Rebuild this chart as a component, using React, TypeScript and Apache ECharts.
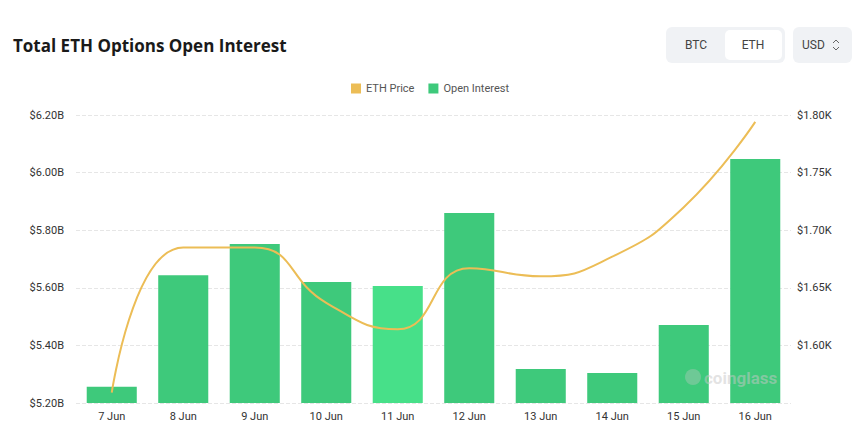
import React, { useEffect, useRef } from "react";
import * as echarts from "echarts";

const categories = ["7 Jun", "8 Jun", "9 Jun", "10 Jun", "11 Jun", "12 Jun", "13 Jun", "14 Jun", "15 Jun", "16 Jun"];
const openInterestB = [5.256, 5.644, 5.752, 5.62, 5.606, 5.86, 5.318, 5.304, 5.471, 6.047];
const ethPriceK = [1.559, 1.685, 1.685, 1.637, 1.614, 1.667, 1.66, 1.677, 1.72, 1.794];
const leftTicks = { min: 5.2, max: 6.2, interval: 0.2 };
const rightTicks = { min: 1.55, max: 1.8, interval: 0.05 };

const FONT = "Roboto, 'Noto Sans', sans-serif";

export default function App() {
  const ref = useRef<HTMLDivElement>(null);
  useEffect(() => {
    document.body.style.margin = "0";
    const chart = echarts.init(ref.current!, null, { renderer: "svg" });
    chart.setOption({
      animation: false,
      backgroundColor: "#ffffff",
      textStyle: { fontFamily: FONT },
      title: {
        text: "Total ETH Options Open Interest",
        left: 8,
        top: 32,
        textStyle: { fontFamily: "'Open Sans', 'Noto Sans', sans-serif", fontSize: 17, fontWeight: "bold", color: "#1a1a1a" },
      },
      legend: {
        top: 78,
        left: "center",
        itemWidth: 10,
        itemHeight: 10,
        itemGap: 14,
        icon: "rect",
        textStyle: { fontSize: 11, color: "#555", fontFamily: FONT },
        data: [
          { name: "ETH Price", itemStyle: { color: "#ecbd56" } },
          { name: "Open Interest", itemStyle: { color: "#3ec97b" } },
        ],
      },
      grid: { left: 76, right: 69, top: 115, bottom: 24, containLabel: false },
      xAxis: {
        type: "category",
        data: categories,
        axisLine: { show: false },
        axisTick: { show: false },
        axisLabel: { color: "#333", fontSize: 11, margin: 8 },
      },
      yAxis: [
        {
          type: "value",
          min: leftTicks.min,
          max: leftTicks.max,
          interval: leftTicks.interval,
          position: "left",
          axisLabel: {
            color: "#333",
            fontSize: 11,
            margin: 12,
            formatter: (v: number) => "$" + v.toFixed(2) + "B",
          },
          splitLine: { lineStyle: { type: "dashed", color: "#e6e6e6" } },
        },
        {
          type: "value",
          min: rightTicks.min,
          max: rightTicks.max,
          interval: rightTicks.interval,
          position: "right",
          axisLabel: {
            color: "#333",
            fontSize: 11,
            margin: 6,
            showMinLabel: false,
            formatter: (v: number) => "$" + v.toFixed(2) + "K",
          },
          splitLine: { show: false },
        },
      ],
      series: [
        {
          name: "Open Interest",
          type: "bar",
          yAxisIndex: 0,
          barWidth: "70%",
          itemStyle: { color: "#3ec97b" },
          data: openInterestB.map((v, i) =>
            i === 4 ? { value: v, itemStyle: { color: "#47e089" } } : v
          ),
          z: 2,
        },
        {
          name: "ETH Price",
          type: "line",
          yAxisIndex: 1,
          smooth: 0.5,
          showSymbol: false,
          lineStyle: { color: "#ecbd56", width: 2 },
          itemStyle: { color: "#ecbd56" },
          data: ethPriceK,
          z: 3,
        },
      ],
      graphic: [
        { type: "rect", shape: { x: 666, y: 27, width: 119, height: 36, r: 6 }, style: { fill: "#f0f2f5" } },
        { type: "rect", shape: { x: 725, y: 30, width: 57, height: 30, r: 5 }, style: { fill: "#ffffff" } },
        { type: "text", x: 696, y: 45, style: { text: "BTC", fill: "#444", fontSize: 12, fontFamily: FONT, align: "center", verticalAlign: "middle" } },
        { type: "text", x: 753, y: 45, style: { text: "ETH", fill: "#444", fontSize: 12, fontFamily: FONT, align: "center", verticalAlign: "middle" } },
        { type: "rect", shape: { x: 793, y: 27, width: 59, height: 36, r: 6 }, style: { fill: "#f0f2f5" } },
        { type: "text", x: 802, y: 45, style: { text: "USD", fill: "#444", fontSize: 12, fontFamily: FONT, align: "left", verticalAlign: "middle" } },
        { type: "polyline", shape: { points: [[833, 43], [836, 40], [839, 43]] }, style: { stroke: "#666", lineWidth: 1, fill: "none" } },
        { type: "polyline", shape: { points: [[833, 47], [836, 50], [839, 47]] }, style: { stroke: "#666", lineWidth: 1, fill: "none" } },
        { type: "circle", shape: { cx: 693, cy: 377, r: 8 }, style: { fill: "rgba(200,200,200,0.35)" }, z: 10 },
        { type: "text", x: 704, y: 378, style: { text: "coinglass", fill: "rgba(200,200,200,0.5)", fontSize: 17, fontWeight: "bold", fontFamily: FONT, verticalAlign: "middle" }, z: 10 },
      ],
    });
    return () => chart.dispose();
  }, []);
  return <div ref={ref} style={{ width: 860, height: 427, position: "absolute", left: 0, top: 0 }} />;
}
